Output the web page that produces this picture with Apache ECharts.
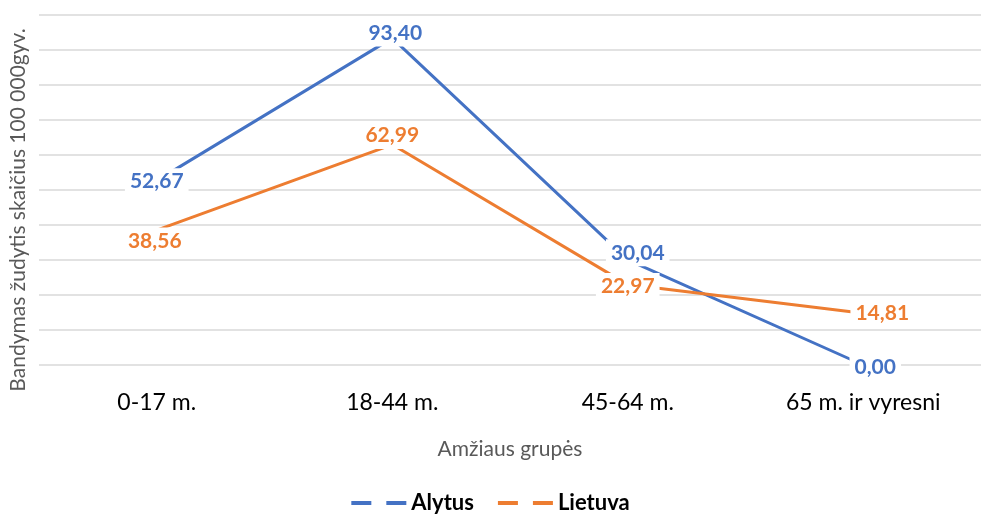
<!DOCTYPE html>
<html>
<head>
<meta charset="utf-8">
<script src="https://cdn.jsdelivr.net/npm/echarts@6/dist/echarts.min.js"></script>
<style>
  html, body { margin: 0; padding: 0; background: #fff; }
  #main { width: 981px; height: 519px; }
</style>
</head>
<body>
<div id="main"></div>
<script>
	var categories = [ '0-17 m.', '18-44 m.', '45-64 m.', '65 m. ir vyresni' ];
	var alytus = [ 52.67, 93.40, 30.04, 0.00 ];
	var lietuva = [ 38.56, 62.99, 22.97, 14.81 ];

	// label nudges, as Excel placed them
	var alytusShift = [ [ 0, 1 ], [ 3, -5 ], [ 10, -7 ], [ 12, 2 ] ];
	var lietuvaShift = [ [ -2, 11 ], [ 0, -9 ], [ 0, 2 ], [ 19, 0 ] ];

	var FONT = 'Lato, "Open Sans", sans-serif';

	// Excel style labels: number with comma, white box over the line
	function labelOf(color) {
		return {
			show : true,
			position : 'inside',
			color : color,
			fontFamily : FONT,
			fontWeight : 'bold',
			fontSize : 21,
			backgroundColor : '#fff',
			padding : [ 3, 5 ],
			formatter : function(p) {
				return p.value.toFixed(2).replace('.', ',');
			}
		};
	}

	function points(values, shift) {
		return values.map(function(v, i) {
			return {
				value : v,
				label : { offset : shift[i] }
			};
		});
	}

	var chart = echarts.init(document.getElementById('main'));

	var option = {
		backgroundColor : '#fff',
		animation : false,
		grid : {
			left : 37,
			right : 0,
			top : 15,
			bottom : 154
		},
		legend : {
			bottom : 0,
			left : 'center',
			itemGap : 24,
			itemWidth : 55,
			itemHeight : 4,
			icon : 'path://M0,0h20v4H0z M35,0h20v4H35z',
			textStyle : {
				fontFamily : FONT,
				fontWeight : 'bold',
				fontSize : 22,
				color : '#000'
			},
			data : [ 'Alytus', 'Lietuva' ]
		},
		xAxis : {
			type : 'category',
			data : categories,
			name : 'Amžiaus grupės',
			nameLocation : 'middle',
			nameGap : 74,
			nameTextStyle : {
				fontFamily : FONT,
				fontSize : 21,
				color : '#595959'
			},
			axisLine : { show : false },
			axisTick : { show : false },
			axisLabel : {
				margin : 26,
				fontFamily : FONT,
				fontSize : 23,
				color : '#000'
			}
		},
		yAxis : {
			type : 'value',
			min : 0,
			max : 100,
			interval : 10,
			name : 'Bandymas žudytis skaičius 100 000gyv.',
			nameLocation : 'middle',
			nameGap : 10,
			nameTextStyle : {
				fontFamily : FONT,
				fontSize : 21,
				color : '#595959',
				padding : [ 0, 40, 0, 0 ]
			},
			axisLabel : { show : false },
			axisLine : { show : false },
			axisTick : { show : false },
			splitLine : {
				lineStyle : {
					color : '#d9d9d9',
					width : 1.5
				}
			}
		},
		series : [ {
			name : 'Alytus',
			type : 'line',
			data : points(alytus, alytusShift),
			symbol : 'circle',
			symbolSize : 0.1,
			color : '#4472C4',
			lineStyle : { width : 3 },
			label : labelOf('#4472C4')
		}, {
			name : 'Lietuva',
			type : 'line',
			data : points(lietuva, lietuvaShift),
			symbol : 'circle',
			symbolSize : 0.1,
			color : '#ED7D31',
			lineStyle : { width : 3 },
			label : labelOf('#ED7D31')
		} ]
	};

	chart.setOption(option);
</script>
</body>
</html>
